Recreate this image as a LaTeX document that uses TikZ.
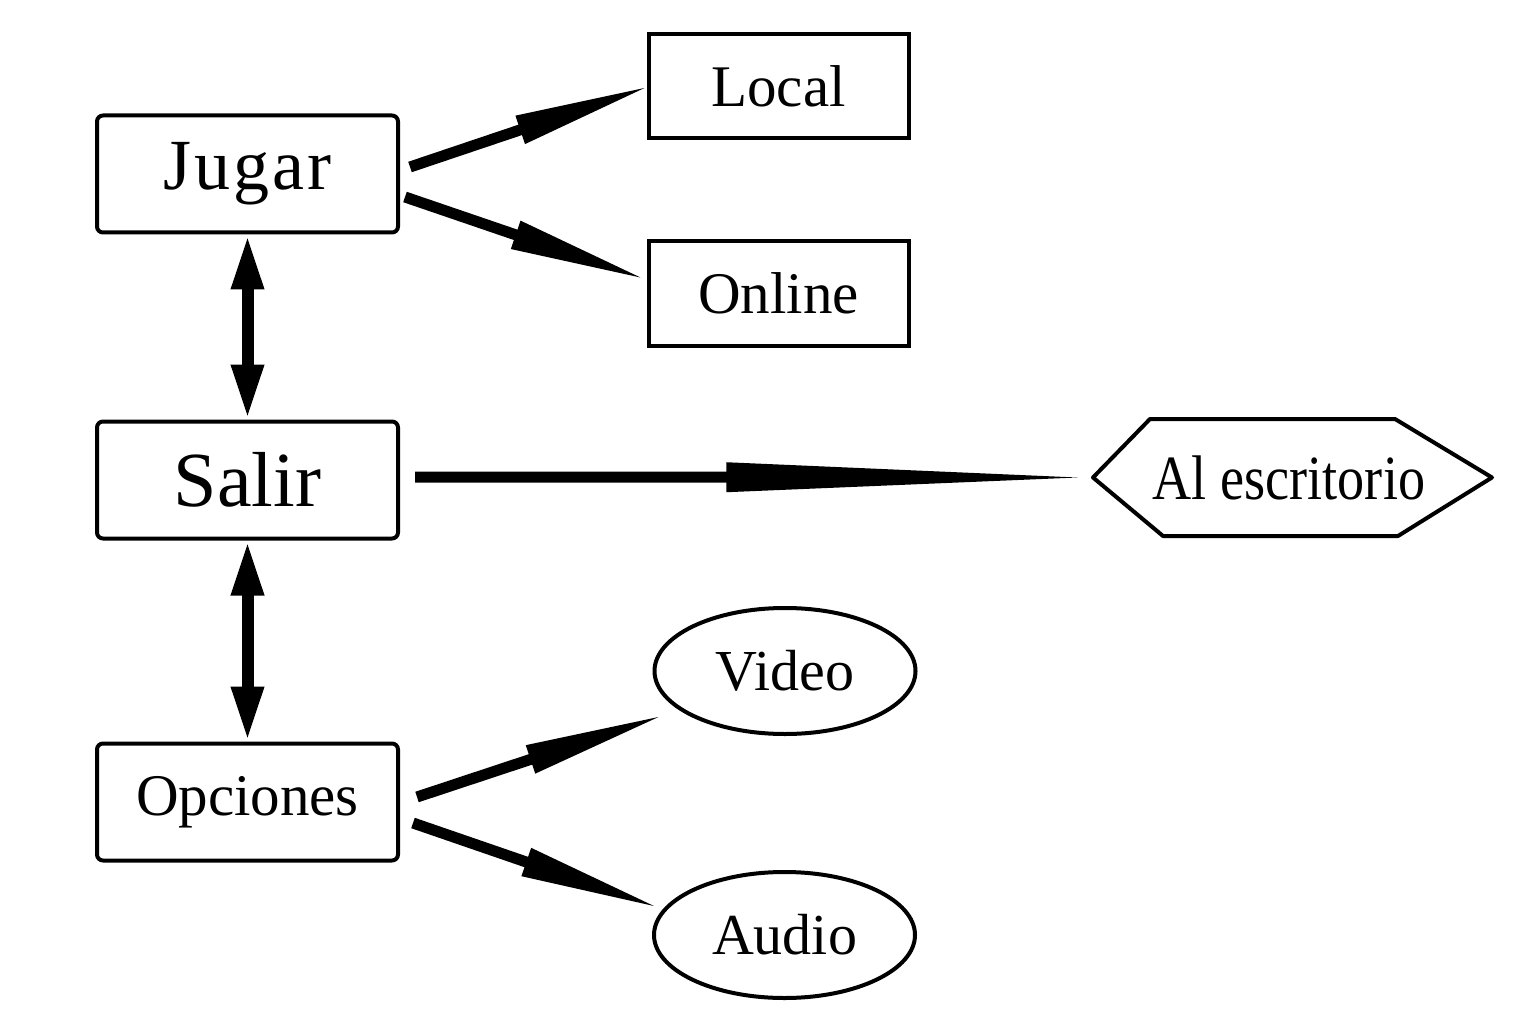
\documentclass[tikz,border=0pt]{standalone}
\usepackage{fontspec}
\setmainfont{Liberation Serif}
\newfontfamily\condfont[FakeStretch=0.86]{Liberation Serif}
\usetikzlibrary{arrows.meta,calc,shapes.geometric}
\newcommand\longarrow[2]{%
  \draw[line width=11pt] (#1) -- ($(#1)!0.49!(#2)$);
  \fill ($(#1)!0.47!(#2)!15pt!90:(#2)$) -- ($(#1)!0.47!(#2)!15pt!-90:(#2)$) -- (#2) -- cycle;}
\begin{document}
\begin{tikzpicture}[x=1pt,y=-1pt,
  box/.style={draw,line width=4pt,rounded corners=6pt,minimum width=301pt,minimum height=117pt,inner sep=0pt},
  sbox/.style={draw,line width=4pt,minimum width=260pt,minimum height=104pt,inner sep=0pt,font=\fontsize{59}{60}\selectfont},
  oval/.style={draw,ellipse,line width=4pt,minimum width=261pt,minimum height=126pt,inner sep=0pt,font=\fontsize{58}{60}\selectfont},
  dbl/.style={line width=12pt,{Triangle[length=55pt,width=30pt]}-{Triangle[length=55pt,width=30pt]}}
]
\useasboundingbox (0,0) rectangle (1539,1024);
\node[box,font=\fontsize{72}{74}\selectfont] (jugar) at (247.5,174) {\addfontfeature{LetterSpace=4}Jugar};
\node[box,font=\fontsize{78}{80}\selectfont] (salir) at (247.5,480) {Salir};
\node[box,font=\fontsize{59}{60}\selectfont] (opciones) at (247.5,802) {Opciones};
\node[sbox] (local) at (778.5,86) {Local};
\node[sbox] (online) at (778.5,293.5) {Online};
\node[oval] (video) at (785,671) {Video};
\node[oval] (audio) at (784.5,935) {Audio};
\node[minimum width=399pt,minimum height=117pt,inner sep=0pt,outer sep=0pt,font=\condfont\fontsize{63}{65}\selectfont] (escr) at (1289,477.5) {Al escritorio};
\draw[line width=4pt,line join=round] ($(escr.west)+(3.5,0)$) -- ($(escr.north west)+(60.5,0)$) -- ($(escr.north east)+(-93.5,0)$) -- ($(escr.east)+(3.5,0)$) -- ($(escr.south east)+(-90.5,0)$) -- ($(escr.south west)+(73.5,0)$) -- cycle;
% connector ends
\coordinate (j1s) at ($(jugar.east)+(10,-7)$);
\coordinate (j1e) at ($(local.west)+(-2,2)$);
\coordinate (j2s) at ($(jugar.east)+(5,23)$);
\coordinate (j2e) at ($(online.west)+(-6,-16)$);
\coordinate (s1s) at ($(salir.east)+(15,-3)$);
\coordinate (s1e) at ($(escr.west)+(-12,0)$);
\coordinate (o1s) at ($(opciones.east)+(17,-5)$);
\coordinate (o1e) at ($(video.west)+(6,46)$);
\coordinate (o2s) at ($(opciones.east)+(13,21)$);
\coordinate (o2e) at ($(audio.west)+(2,-29)$);
\longarrow{j1s}{j1e}
\longarrow{j2s}{j2e}
\longarrow{s1s}{s1e}
\longarrow{o1s}{o1e}
\longarrow{o2s}{o2e}
\draw[dbl] (jugar.south) -- (salir.north);
\draw[dbl] (salir.south) -- (opciones.north);
\end{tikzpicture}
\end{document}
